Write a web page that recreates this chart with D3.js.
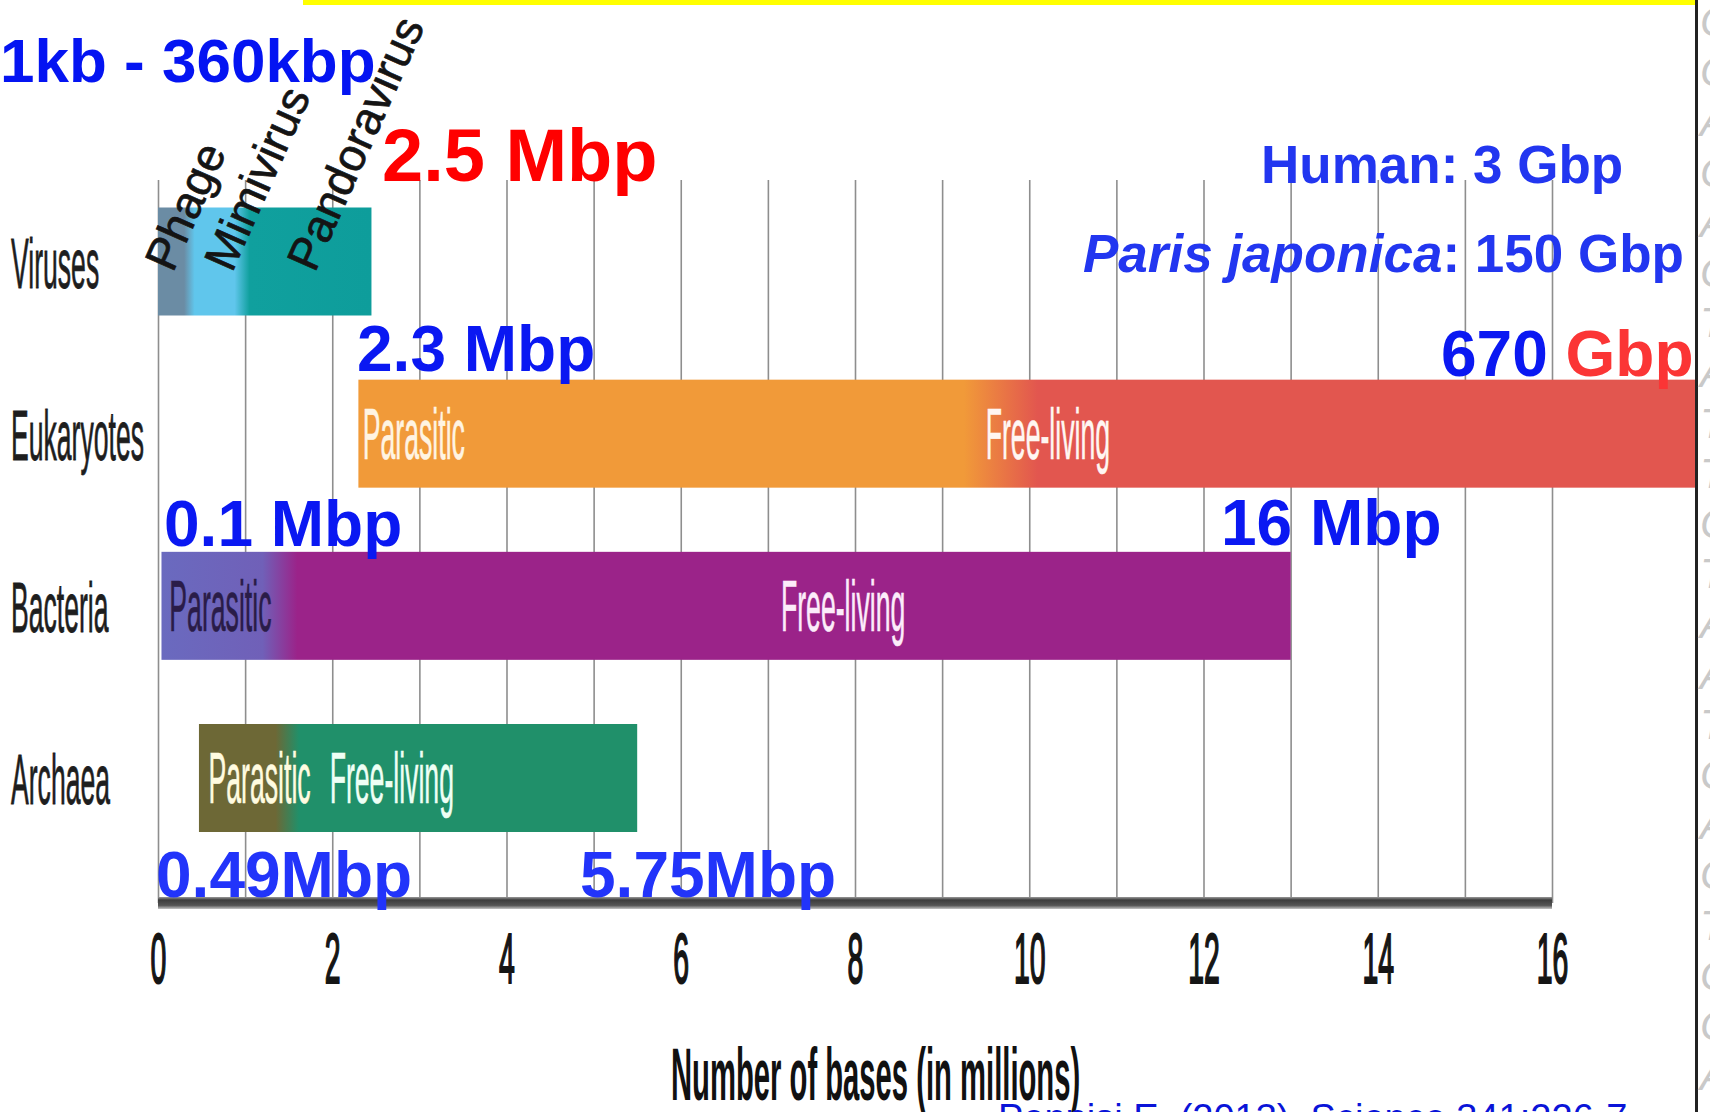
<!DOCTYPE html>
<html><head><meta charset="utf-8">
<script src="https://cdn.jsdelivr.net/npm/d3@7"></script>
<style>html,body{margin:0;padding:0;background:#fff;overflow:hidden}</style>
</head><body>
<svg id="c" width="1710" height="1112" xmlns="http://www.w3.org/2000/svg"></svg>
<script>
// ---------------- data ----------------
const categories = ["Viruses", "Eukaryotes", "Bacteria", "Archaea"];
const barStart = [0, 2.3, 0.04, 0.47];        // genome size, millions of bases
const barEnd   = [2.45, 670000, 13, 5.5];     // Eukaryotes reach 670 Gbp (off the chart)
const tickValues = [0, 2, 4, 6, 8, 10, 12, 14, 16];
const gridValues = [0, 1, 2, 3, 4, 5, 6, 7, 8, 9, 10, 11, 12, 13, 14, 15, 16];
// colour transitions along each bar: [value (Mb), colour]
const viralStops = [[0, "#6b8ca4"], [0.3, "#6b8ca4"], [0.42, "#60c6ec"], [0.88, "#60c6ec"], [1.05, "#10a09e"], [2.45, "#0e9d9b"]];
const eukStops   = [[2.3, "#f19a39"], [9.25, "#f19a39"], [10.1, "#e2564f"], [16, "#e2564f"]];
const bactStops  = [[0.04, "#6a6abf"], [1.2, "#7060b8"], [1.6, "#9b2389"], [13, "#9b2389"]];
const archStops  = [[0.47, "#6d6836"], [1.35, "#6d6836"], [1.62, "#20906a"], [5.5, "#20906a"]];
const virusNames = ["Phage", "Mimivirus", "Pandoravirus"];
const virusNameAt = [0.17, 0.85, 1.8];
const segCats  = ["Eukaryotes", "Eukaryotes", "Bacteria", "Bacteria", "Archaea", "Archaea"];
const segTexts = ["Parasitic", "Free-living", "Parasitic", "Free-living", "Parasitic", "Free-living"];
const segAt    = [2.35, 9.5, 0.13, 7.15, 0.58, 1.97];
const axisTitle = "Number of bases (in millions)";
const dnaLetters = "CCACACTATTCTAATCACTCCA".split("");

// ---------------- drawing ----------------
const svg = d3.select("#c");
const W = 1710, H = 1112;
const FONT = "'Liberation Sans', Arial, Helvetica, sans-serif";
svg.append("rect").attr("width", W).attr("height", H).attr("fill", "#fff");

const x = d3.scaleLinear().domain([0, 16]).range([158, 1552]);
const yc = d3.scalePoint().domain(categories).range([261.5, 778]);
const barH = 108;
const axisY = 903, gridTop = 180;

const defs = svg.append("defs");
defs.append("clipPath").attr("id", "frameClip").append("rect")
  .attr("x", 0).attr("y", 0).attr("width", 1696).attr("height", H);

const allStops = [viralStops, eukStops, bactStops, archStops];
allStops.forEach((stops, i) => {
  const g = defs.append("linearGradient").attr("id", "grad" + i)
    .attr("gradientUnits", "userSpaceOnUse")
    .attr("x1", x(0)).attr("x2", x(16)).attr("y1", 0).attr("y2", 0);
  stops.forEach(s => g.append("stop").attr("offset", Math.min(1, s[0] / 16)).attr("stop-color", s[1]));
});
const axGrad = defs.append("linearGradient").attr("id", "axGrad").attr("x1", 0).attr("x2", 0).attr("y1", 0).attr("y2", 1);
axGrad.append("stop").attr("offset", 0).attr("stop-color", "#9a9a9a");
axGrad.append("stop").attr("offset", 0.25).attr("stop-color", "#3c3c3c");
axGrad.append("stop").attr("offset", 0.7).attr("stop-color", "#555");
axGrad.append("stop").attr("offset", 1).attr("stop-color", "#c4c4c4");

// gridlines
const grid = svg.append("g").attr("transform", `translate(0,${axisY})`)
  .call(d3.axisBottom(x).tickValues(gridValues).tickSize(-(axisY - gridTop)).tickFormat(""));
grid.select(".domain").remove();
grid.selectAll(".tick line").attr("stroke", "#8e8e8e").attr("stroke-width", 1.6);

// bars
svg.append("g").attr("clip-path", "url(#frameClip)")
  .selectAll("rect").data(categories).join("rect")
  .attr("x", (d, i) => x(barStart[i]))
  .attr("width", (d, i) => Math.min(x(barEnd[i]), 5000) - x(barStart[i]))
  .attr("y", d => yc(d) - barH / 2)
  .attr("height", barH)
  .attr("fill", (d, i) => `url(#grad${i})`);

// axis baseline
svg.append("rect").attr("x", x(0)).attr("width", x(16) - x(0))
  .attr("y", axisY - 6).attr("height", 12).attr("fill", "url(#axGrad)");

// tick labels
const ax = svg.append("g").attr("transform", `translate(0,${axisY})`)
  .call(d3.axisBottom(x).tickValues(tickValues).tickSize(0).tickFormat(d3.format("d")));
ax.select(".domain").remove();
ax.selectAll(".tick text")
  .attr("y", 80).attr("dy", 0)
  .attr("transform", "scale(0.4,1)")
  .attr("font-family", FONT).attr("font-size", 71).attr("font-weight", "normal")
  .attr("stroke", "#151515").attr("stroke-width", 2.2)
  .attr("fill", "#151515");

function cond(g, tx, ty, txt, size, sx, fill, weight, anchor) {
  return g.append("text")
    .attr("transform", `translate(${tx},${ty}) scale(${sx},1)`)
    .attr("font-family", FONT).attr("font-size", size)
    .attr("font-weight", weight || "normal")
    .attr("text-anchor", anchor || "start")
    .attr("fill", fill).text(txt);
}

// labels inside bars
const segColors = ["#fff4e2", "#fff6f2", "#2a1c48", "#fcecfa", "#fffbe0", "#eefff5"];
const segG = svg.append("g");
segTexts.forEach((t, i) => {
  cond(segG, x(segAt[i]), yc(segCats[i]) + 25, t, 72, 0.37, segColors[i])
    .attr("stroke", segColors[i]).attr("stroke-width", 0.6);
});

// virus names (rotated)
const vG = svg.append("g");
virusNames.forEach((t, i) => {
  vG.append("text")
    .attr("transform", `translate(${x(virusNameAt[i])},${yc("Viruses") + 12}) rotate(-66)`)
    .attr("font-family", FONT).attr("font-size", 46)
    .attr("stroke", "#141414").attr("stroke-width", 0.7)
    .attr("fill", "#141414").text(t);
});

// category labels
const cG = svg.append("g");
categories.forEach(c => {
  cond(cG, 11, yc(c) + 26, c, 70, 0.38, "#1e1e1e").attr("stroke", "#1e1e1e").attr("stroke-width", 0.8);
});

// axis title
cond(svg, 671, 1100, axisTitle, 74, 0.395, "#111", "bold");

// annotations
function ann(tx, ty, size, fill, parts) {
  const t = svg.append("text").attr("x", tx).attr("y", ty)
    .attr("font-family", FONT).attr("font-size", size).attr("font-weight", "bold");
  parts.forEach(p => t.append("tspan").attr("fill", p[1] || fill)
    .attr("font-style", p[2] || "normal").text(p[0]));
  return t;
}
ann(0, 82, 62, "#0414f2", [["1kb - 360kbp"]]);
ann(382, 181, 74, "#ff0000", [["2.5 Mbp"]]);
ann(1261, 183, 53, "#2236f0", [["Human: 3 Gbp"]]);
ann(1083, 272, 53, "#2236f0", [["Paris japonica", null, "italic"], [": 150 Gbp"]]);
ann(1441, 376, 64, "#0a18f2", [["670 "], ["Gbp", "#fb3535"]]);
ann(357, 371, 64, "#0a18f2", [["2.3 Mbp"]]);
ann(164, 546, 64, "#0a18f2", [["0.1 Mbp"]]);
ann(1221, 545, 64, "#0a18f2", [["16 Mbp"]]);
ann(156, 897, 64, "#2234fa", [["0.49Mbp"]]);
ann(580, 897, 64, "#2234fa", [["5.75Mbp"]]);

// citation (cut off at the bottom edge, as in the slide)
svg.append("text").attr("x", 998).attr("y", 1131)
  .attr("font-family", FONT).attr("font-size", 38).attr("fill", "#0a14d8")
  .text("Pennisi E. (2013). Science 341:226-7");

// slide decorations: yellow strip, right frame, sequence letters
svg.append("rect").attr("x", 303).attr("y", 0).attr("width", 1392).attr("height", 5).attr("fill", "#ffff00");
svg.append("rect").attr("x", 1695).attr("y", 0).attr("width", 3).attr("height", H).attr("fill", "#222");
svg.append("g").selectAll("text").data(dnaLetters).join("text")
  .attr("x", 1700).attr("y", (d, i) => 36 + i * 50.2)
  .attr("font-family", FONT).attr("font-size", 42).attr("font-style", "italic")
  .attr("fill", "#c9c9c9").text(d => d);
</script>
</body></html>
